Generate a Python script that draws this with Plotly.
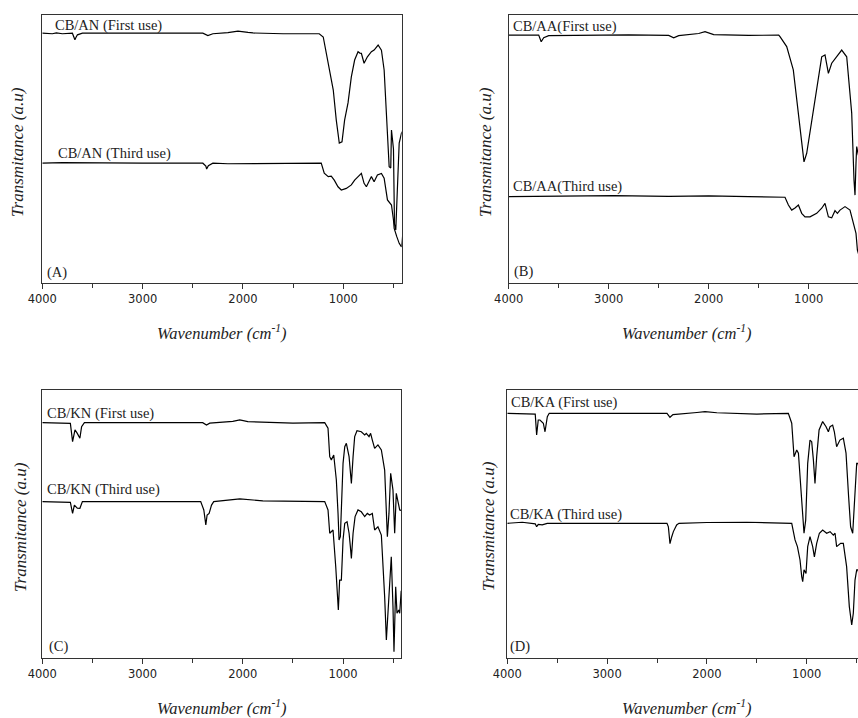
import plotly.graph_objects as go

# ---------------- FTIR spectra (wavenumber in cm-1, transmittance in a.u.) ----------------
# (A) CB/AN
an_first_wn = [4000, 3900, 3860, 3800, 3700, 3675, 3665, 3650, 3600, 3000, 2400, 2350, 2300,
               2150, 2050, 1950, 1900, 1600, 1300, 1270, 1240, 1200, 1170, 1120, 1100, 1070,
               1040, 1013, 987, 953, 920, 887, 853, 835, 820, 793, 760, 720, 693, 653, 620,
               593, 567, 543, 527, 520, 500, 490, 477, 460, 443, 420, 400]
an_first_t = [93.2, 93.0, 93.3, 93.0, 93.2, 90.8, 91.6, 92.6, 93.2, 93.2, 93.2, 92.3, 93.0,
              93.4, 94.0, 93.5, 93.3, 93.0, 93.2, 93.2, 93.0, 91.8, 85.8, 74.6, 72.0, 60.8,
              52.2, 52.7, 60.8, 67.2, 76.9, 83.2, 86.3, 85.8, 85.7, 82.0, 84.4, 86.3, 86.9,
              88.8, 86.9, 79.5, 60.8, 43.4, 42.9, 57.1, 50.0, 22.0, 19.8, 35.8, 52.2, 56.0,
              57.1]
an_third_wn = [4000, 3800, 3000, 2400, 2370, 2362, 2345, 2300, 2150, 1800, 1220, 1190, 1150,
               1120, 1090, 1053, 1020, 970, 920, 887, 853, 820, 793, 770, 737, 720, 693,
               660, 620, 593, 560, 520, 500, 493, 467, 443, 420, 400]
an_third_t = [44.7, 44.9, 44.7, 44.7, 43.6, 42.5, 43.8, 44.7, 44.5, 44.6, 44.7, 41.0, 39.7,
              39.9, 38.4, 35.9, 34.7, 35.3, 36.6, 38.4, 39.7, 40.9, 37.2, 35.9, 38.4, 39.7,
              37.8, 40.3, 40.9, 39.1, 31.0, 29.1, 23.5, 20.4, 17.3, 14.8, 13.5, 20.9]

# (B) CB/AA
aa_first_wn = [4000, 3800, 3700, 3675, 3665, 3650, 3600, 2800, 2400, 2350, 2300, 2100, 2037,
               1950, 1600, 1300, 1287, 1220, 1154, 1120, 1087, 1047, 1020, 970, 920, 870,
               837, 803, 770, 720, 670, 620, 570, 547, 537, 527, 520, 505, 480]
aa_first_t = [92.5, 92.4, 92.5, 90.0, 90.6, 91.5, 92.3, 92.6, 92.4, 91.5, 92.3, 93.1, 93.8,
              92.7, 92.4, 92.5, 91.9, 88.2, 79.5, 68.3, 57.1, 45.2, 48.4, 60.8, 73.2, 84.4,
              85.1, 78.2, 82.0, 84.4, 86.9, 84.4, 63.4, 38.4, 32.8, 44.8, 50.9, 48.0, 45.0]
aa_third_wn = [4000, 3000, 2950, 2400, 2000, 1600, 1237, 1203, 1170, 1137, 1103, 1070, 1037,
               987, 920, 870, 837, 803, 770, 737, 713, 687, 637, 587, 553, 527, 513, 480]
aa_third_t = [32.2, 32.4, 32.6, 32.3, 32.5, 32.2, 32.0, 29.1, 27.2, 28.0, 29.1, 26.0, 24.7,
              24.7, 26.0, 27.9, 29.7, 24.7, 24.3, 27.0, 26.0, 27.2, 28.5, 27.2, 22.3, 18.5,
              12.3, 8.0]

# (C) CB/KN
kn_first_wn = [4000, 3720, 3698, 3674, 3651, 3625, 3608, 3580, 3000, 2400, 2362, 2330, 2100,
               2030, 1950, 1500, 1183, 1150, 1133, 1117, 1093, 1067, 1050, 1040, 1027, 1017,
               1000, 983, 967, 940, 927, 917, 900, 884, 861, 818, 784, 768, 741, 725, 708,
               685, 652, 618, 585, 568, 558, 542, 525, 502, 485, 469, 452, 435, 420]
kn_first_t = [87.8, 87.5, 80.7, 85.1, 83.8, 82.0, 86.3, 87.8, 87.8, 87.8, 86.9, 87.6, 88.3,
              88.8, 88.2, 87.6, 87.8, 85.7, 75.1, 73.9, 75.7, 66.4, 53.9, 44.0, 45.2, 56.4,
              72.6, 78.8, 80.1, 75.1, 68.9, 65.1, 75.1, 82.6, 84.8, 84.4, 83.2, 83.8, 82.6,
              83.8, 81.3, 78.2, 79.5, 77.6, 70.1, 53.9, 45.2, 53.9, 68.9, 62.6, 46.5, 61.4,
              57.7, 55.2, 55.0]
kn_third_wn = [4000, 3720, 3698, 3680, 3651, 3625, 3600, 3000, 2420, 2389, 2369, 2356, 2336,
               2312, 2290, 2030, 1800, 1183, 1150, 1133, 1100, 1073, 1057, 1047, 1034, 1017,
               1000, 983, 960, 940, 927, 917, 900, 880, 851, 818, 784, 758, 735, 708, 685,
               652, 618, 602, 585, 568, 552, 535, 519, 502, 492, 475, 462, 445, 435, 420]
kn_third_t = [58.3, 58.0, 53.9, 57.0, 55.9, 55.8, 58.3, 58.4, 58.3, 55.2, 49.6, 53.3, 53.9,
              57.0, 58.3, 59.3, 58.6, 58.3, 55.2, 46.5, 47.7, 34.0, 21.6, 17.8, 29.0, 29.0,
              44.0, 50.2, 50.8, 46.5, 41.5, 37.1, 46.5, 52.7, 55.2, 54.5, 52.7, 53.9, 53.3,
              53.9, 47.7, 48.9, 45.8, 36.5, 22.8, 6.6, 16.6, 29.0, 37.7, 19.1, 2.2, 26.5,
              16.6, 17.8, 16.6, 25.0]

# (D) CB/KA
ka_first_wn = [4000, 3720, 3706, 3690, 3673, 3639, 3622, 3599, 3580, 2600, 2400, 2370, 2340,
               2100, 2019, 1900, 1500, 1184, 1150, 1127, 1100, 1083, 1060, 1040, 1027, 1010,
               990, 967, 950, 933, 917, 900, 876, 840, 806, 783, 766, 740, 723, 700, 667,
               633, 606, 580, 560, 539, 519, 499, 486, 470]
ka_first_t = [91.3, 91.0, 83.2, 88.8, 88.8, 87.6, 84.4, 90.0, 91.3, 91.5, 91.3, 89.8, 90.8,
              91.6, 91.9, 91.5, 91.0, 91.3, 87.6, 75.1, 77.6, 76.4, 62.6, 50.2, 46.5, 51.4,
              72.6, 81.3, 80.7, 73.9, 65.1, 75.1, 85.1, 88.2, 86.3, 84.4, 86.3, 86.9, 84.4,
              78.8, 81.3, 82.0, 76.4, 60.1, 48.9, 46.5, 62.6, 72.6, 72.6, 70.0]
ka_third_wn = [4000, 3850, 3720, 3706, 3690, 3650, 3600, 3000, 2400, 2386, 2370, 2353, 2336,
               2303, 2280, 2000, 1600, 1150, 1117, 1093, 1067, 1050, 1040, 1027, 1007, 990,
               967, 940, 923, 900, 873, 840, 800, 766, 733, 716, 700, 660, 633, 600, 573,
               549, 533, 516, 499, 486, 470]
ka_third_t = [50.2, 50.6, 50.0, 48.9, 49.8, 49.6, 50.2, 50.3, 50.2, 48.9, 42.6, 45.1, 47.1,
              49.6, 50.2, 50.5, 50.6, 50.2, 44.0, 41.5, 36.5, 30.3, 28.4, 32.8, 31.5, 41.5,
              45.2, 41.5, 37.7, 42.7, 46.5, 47.7, 46.5, 47.1, 45.8, 46.5, 41.5, 42.7, 42.7,
              34.0, 19.1, 12.2, 16.6, 29.0, 32.8, 32.8, 30.0]

# Panel definitions: trace pairs, curve labels and x-axis extent (high to low wavenumber)
panels = [
    dict(tag="(A)", first=(an_first_wn, an_first_t), third=(an_third_wn, an_third_t),
         names=("CB/AN (First use)", "CB/AN (Third use)"), xmin=418),
    dict(tag="(B)", first=(aa_first_wn, aa_first_t), third=(aa_third_wn, aa_third_t),
         names=("CB/AA(First use)", "CB/AA(Third use)"), xmin=507),
    dict(tag="(C)", first=(kn_first_wn, kn_first_t), third=(kn_third_wn, kn_third_t),
         names=("CB/KN (First use)", "CB/KN (Third use)"), xmin=422),
    dict(tag="(D)", first=(ka_first_wn, ka_first_t), third=(ka_third_wn, ka_third_t),
         names=("CB/KA (First use)", "CB/KA (Third use)"), xmin=486),
]

W, H = 858, 718


def px(x):
    return x / W


def py(y):
    return 1 - y / H


# plot-area boxes in pixels: left, right, top, bottom
boxes = [(42.3, 401.7, 15, 283), (508.7, 858, 15, 283),
         (42.3, 401.0, 390, 657.7), (507.3, 858, 390, 657.7)]
# curve-label anchors (left, centre) and panel-tag anchors
label_pos = [((54, 25), (57, 153)), ((511.7, 26.7), (511.7, 186.7)),
             ((45.7, 413.3), (45.7, 489.3)), ((510, 402.7), (509.3, 514))]
tag_pos = [(46, 272), (512.7, 271.7), (48.3, 646.7), (509.3, 646.7)]
xtitle_pos = [(222, 332), (687, 332), (222, 707), (687, 707)]
ytitle_pos = [(17, 152), (485, 152), (20, 527), (488, 526)]

INK = "#222222"
SERIF = "Liberation Serif, Times New Roman, serif"

fig = go.Figure()
annotations = []
layout = dict(width=W, height=H,
              margin=dict(l=0, r=0, t=0, b=0, pad=0, autoexpand=False),
              paper_bgcolor="white", plot_bgcolor="white", showlegend=False)

for i, p in enumerate(panels):
    n = "" if i == 0 else str(i + 1)
    xa, ya = "x" + n, "y" + n
    for wn, t in (p["first"], p["third"]):
        fig.add_trace(go.Scatter(x=wn, y=t, mode="lines", xaxis=xa, yaxis=ya,
                                 line=dict(color="black", width=1.2), hoverinfo="skip"))
    l, r, top, bot = boxes[i]
    cut = i in (1, 3)  # right-hand panels run off the page edge
    layout["xaxis" + n] = dict(
        domain=[px(l), min(px(r), 1.0)], anchor=ya, range=[4000, p["xmin"]],
        tick0=0, dtick=1000, ticks="outside", ticklen=5, tickwidth=1, tickcolor="#333",
        minor=dict(dtick=500, tick0=0, ticks="outside", ticklen=4, tickwidth=1,
                   tickcolor="#333"),
        showline=True, linecolor="#333", linewidth=1, mirror=True,
        showgrid=False, zeroline=False, automargin=False,
        tickfont=dict(family="DejaVu Sans, Verdana, sans-serif", size=11.5, color=INK))
    layout["yaxis" + n] = dict(
        domain=[py(bot), py(top)], anchor=xa, range=[0, 100],
        showticklabels=False, ticks="", showgrid=False, zeroline=False, automargin=False,
        showline=True, linecolor="#333", linewidth=1, mirror=not cut)

    for (lx, ly), txt in zip(label_pos[i], p["names"]):
        annotations.append(dict(x=px(lx), y=py(ly), xref="paper", yref="paper",
                                text=txt, showarrow=False, xanchor="left", yanchor="middle",
                                align="left", borderpad=0,
                                font=dict(family=SERIF, size=14.5, color=INK)))
    tx, ty = tag_pos[i]
    annotations.append(dict(x=px(tx), y=py(ty), xref="paper", yref="paper", text=p["tag"],
                            showarrow=False, xanchor="left", yanchor="middle",
                            align="left", borderpad=0,
                            font=dict(family=SERIF, size=14.5, color=INK)))
    gx, gy = xtitle_pos[i]
    annotations.append(dict(x=px(gx), y=py(gy), xref="paper", yref="paper",
                            text="Wavenumber (cm<sup>-1</sup>)", showarrow=False,
                            xanchor="center", yanchor="middle",
                            font=dict(family=SERIF, size=16.5, color=INK, style="italic")))
    hx, hy = ytitle_pos[i]
    annotations.append(dict(x=px(hx), y=py(hy), xref="paper", yref="paper",
                            text="Transmitance (a.u)", showarrow=False, textangle=-90,
                            xanchor="center", yanchor="middle",
                            font=dict(family=SERIF, size=17, color=INK, style="italic")))

layout["annotations"] = annotations
fig.update_layout(**layout)
fig.write_html("out.html")
